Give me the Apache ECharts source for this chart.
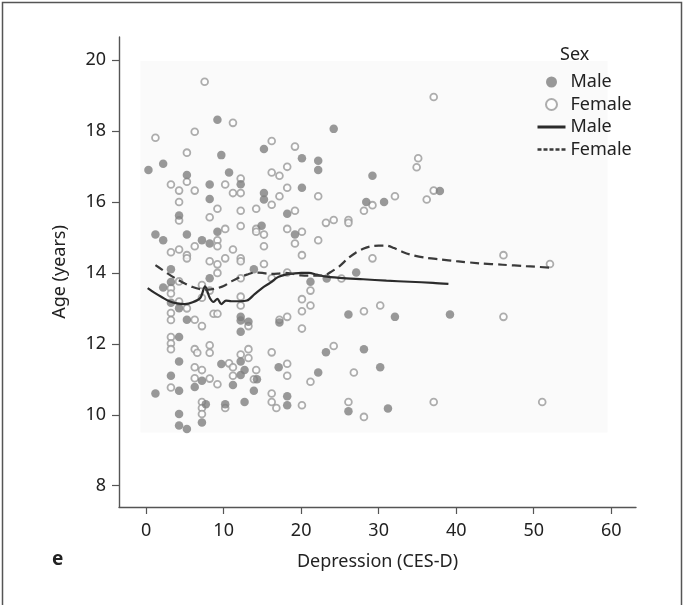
<!DOCTYPE html>
<html>
<head>
<meta charset="utf-8">
<script src="https://cdn.jsdelivr.net/npm/echarts@6/dist/echarts.min.js"></script>
<style>
  html, body { margin: 0; padding: 0; background: #fff; }
  #chart { width: 683px; height: 605px; }
</style>
</head>
<body>
<div id="chart"></div>
<script>
// Depression score (CES-D) vs age, by sex, with loess fits
const xTicks = [0, 10, 20, 30, 40, 50, 60];
const yTicks = [8, 10, 12, 14, 16, 18, 20];

const maleDepr = [0.3, 1.2, 1.2, 2.2, 2.2, 2.2, 3.2, 3.2, 3.2, 3.2, 4.25, 4.25, 4.25, 4.25, 4.25, 4.25, 4.25,
  5.26, 5.26, 5.26, 5.26, 6.27, 7.2, 7.2, 7.2, 7.7, 8.2, 8.2, 8.2, 8.2, 9.2, 9.2, 9.7, 9.7, 10.2, 10.7, 11.2,
  12.2, 12.2, 12.2, 12.2, 12.2, 12.2, 12.7, 13.2, 12.7, 13.9, 13.9, 14.3, 15.2, 15.2, 15.2, 14.9, 17.2, 17.1,
  18.2, 18.2, 18.2, 19.2, 20.1, 20.1, 22.2, 22.2, 22.2, 21.2, 23.2, 23.3, 24.2, 26.1, 26.1, 27.1, 28.1, 28.4,
  29.2, 30.2, 30.7, 31.2, 32.1, 37.9, 39.2];
const maleAge = [16.9, 10.6, 15.08, 17.08, 14.92, 13.59, 14.1, 13.74, 13.16, 11.1, 15.62, 13.0, 12.19, 11.5, 10.68, 10.02, 9.7,
  16.76, 15.08, 12.68, 9.6, 10.78, 14.92, 9.78, 10.96, 10.3, 16.49, 16.08, 13.85, 14.83, 18.32, 15.16, 17.32, 11.43, 10.3, 16.83, 10.84,
  16.5, 12.76, 12.66, 12.34, 11.5, 11.12, 10.36, 12.62, 11.26, 14.1, 10.68, 11.0, 17.49, 16.25, 16.07, 15.33, 12.6, 11.34,
  15.67, 10.52, 10.27, 15.08, 17.23, 16.4, 17.16, 16.9, 11.19, 13.75, 11.76, 13.84, 18.06, 10.1, 12.83, 14.01, 11.85, 16.0,
  16.74, 11.34, 16.0, 10.18, 12.76, 16.31, 12.83];

const femaleDepr = [1.2, 3.2, 3.2, 3.2, 3.2, 3.2, 3.2, 3.2, 3.2, 3.2, 3.2, 4.25, 4.25, 4.25, 4.25, 4.25, 4.25,
  5.26, 5.26, 5.26, 5.26, 5.26, 6.27, 6.27, 6.27, 6.27, 6.27, 6.27, 6.27, 6.6, 7.2, 7.2, 7.2, 7.2, 7.2, 7.2, 7.2,
  7.55, 8.2, 8.2, 8.2, 8.2, 8.2, 8.2, 8.7, 9.2, 9.2, 9.2, 9.2, 9.2, 9.2, 9.2, 10.2, 10.2, 10.2, 10.2, 10.7,
  11.2, 11.2, 11.2, 11.2, 11.2, 12.2, 12.2, 12.2, 12.2, 12.2, 12.2, 12.2, 12.2, 12.2, 12.2, 13.2, 13.2, 13.2,
  14.2, 14.2, 14.2, 14.2, 13.9, 15.2, 15.2, 15.2, 16.2, 16.2, 16.2, 16.2, 16.2, 16.2, 16.2, 16.8, 17.2, 17.2, 17.2,
  18.2, 18.2, 18.2, 18.2, 18.2, 18.2, 18.2, 19.2, 19.2, 19.2, 20.1, 20.1, 20.1, 20.1, 20.1, 20.1, 21.2, 21.2, 21.2,
  22.2, 22.2, 23.2, 24.2, 24.2, 25.2, 26.1, 26.1, 26.1, 26.8, 28.1, 28.1, 28.1, 29.2, 29.2, 30.2, 32.1, 34.9, 35.1,
  36.2, 37.1, 37.1, 37.1, 46.1, 46.1, 51.1, 52.1];
const femaleAge = [17.81, 16.49, 14.58, 13.57, 13.42, 12.87, 12.67, 12.19, 12.01, 11.85, 10.77, 16.32, 16.0, 15.48, 14.66, 13.76, 13.19,
  17.39, 16.57, 14.5, 14.41, 13.0, 17.98, 16.32, 14.75, 12.68, 11.85, 11.34, 11.03, 11.75, 12.5, 11.26, 10.36, 10.19, 10.02, 13.66, 13.3,
  19.39, 15.57, 14.33, 13.5, 11.96, 11.75, 11.02, 12.85, 12.85, 15.81, 14.92, 14.75, 14.24, 14.0, 10.86, 16.49, 15.24, 14.41, 10.19, 11.45,
  18.23, 16.25, 14.66, 11.34, 11.1, 16.66, 16.25, 15.75, 15.32, 14.41, 14.33, 13.85, 13.33, 13.08, 11.7, 11.85, 11.6, 12.5,
  15.81, 15.24, 15.16, 11.26, 11.0, 15.08, 14.75, 14.25, 17.72, 16.83, 15.92, 13.85, 11.76, 10.6, 10.36, 10.19, 16.74, 16.16, 12.68,
  16.99, 16.4, 15.24, 14.01, 12.76, 11.44, 11.1, 17.56, 15.75, 14.83, 15.16, 14.5, 13.26, 12.92, 12.43, 10.27, 13.5, 13.08, 10.93,
  16.16, 14.92, 15.41, 15.49, 11.94, 13.84, 15.49, 15.41, 10.36, 11.19, 15.75, 12.92, 9.94, 15.91, 14.41, 13.08, 16.16, 16.98, 17.23,
  16.07, 16.32, 18.96, 10.36, 14.5, 12.76, 10.36, 14.25];

// Loess fit curves
const maleFitX = [0.2, 1, 2, 3, 4, 5, 6, 7, 7.6, 8.2, 8.7, 9.2, 9.7, 10.3, 11, 12, 13, 14, 15, 16, 17, 18, 19, 20, 21, 22, 23, 25, 28, 31, 34, 37, 39];
const maleFitY = [13.57, 13.45, 13.32, 13.2, 13.14, 13.12, 13.17, 13.3, 13.62, 13.3, 13.18, 13.27, 13.12, 13.22, 13.2, 13.2, 13.22, 13.4, 13.58, 13.72, 13.88, 13.95, 13.98, 14.0, 14.0, 13.95, 13.9, 13.86, 13.82, 13.78, 13.75, 13.72, 13.69];
const femaleFitX = [1.2, 2, 3, 4, 5, 6, 7, 8, 9, 10, 11, 12, 13, 14, 15, 16, 17, 18, 19, 20, 21, 22, 23, 24, 25, 26, 27, 28, 29, 30, 31, 32, 33, 34, 36, 38, 40, 43, 46, 49, 52];
const femaleFitY = [14.22, 14.1, 13.95, 13.82, 13.7, 13.6, 13.54, 13.53, 13.56, 13.63, 13.76, 13.87, 13.95, 14.01, 14.0, 13.97, 13.98, 14.0, 13.97, 13.93, 13.92, 13.92, 13.93, 14.05, 14.2, 14.4, 14.56, 14.68, 14.75, 14.77, 14.77, 14.7, 14.6, 14.52, 14.43, 14.38, 14.33, 14.27, 14.23, 14.19, 14.15];

const zip = (xs, ys) => xs.map((x, i) => [x, ys[i]]);

const FONT = '"Noto Sans", "Open Sans", sans-serif';
const AXIS_COLOR = '#555';
const TEXT_COLOR = '#222';
const HIDDEN = { color: 'rgba(0,0,0,0)', borderWidth: 0, opacity: 0 };

const chart = echarts.init(document.getElementById('chart'), null, { renderer: 'canvas' });

chart.setOption({
  animation: false,
  backgroundColor: '#fff',
  textStyle: { fontFamily: FONT },
  grid: { left: 119, right: 47, top: 37, bottom: 98 },
  xAxis: {
    type: 'value',
    min: -3.5,
    max: 63.2,
    name: 'Depression (CES-D)',
    nameLocation: 'middle',
    nameGap: 46,
    nameTextStyle: { fontSize: 18, color: TEXT_COLOR, fontFamily: FONT },
    axisLine: { show: true, onZero: false, lineStyle: { color: AXIS_COLOR, width: 1.4 } },
    axisTick: { show: true, length: 7, customValues: xTicks, lineStyle: { color: AXIS_COLOR, width: 1.2 } },
    axisLabel: { customValues: xTicks, fontSize: 18, color: TEXT_COLOR, margin: 15, fontFamily: FONT },
    splitLine: { show: false }
  },
  yAxis: {
    type: 'value',
    min: 7.4,
    max: 20.65,
    name: 'Age (years)',
    nameLocation: 'middle',
    nameGap: 50,
    nameTextStyle: { fontSize: 18, color: TEXT_COLOR, fontFamily: FONT },
    axisLine: { show: true, onZero: false, lineStyle: { color: AXIS_COLOR, width: 1.4 } },
    axisTick: { show: true, length: 7, customValues: yTicks, lineStyle: { color: AXIS_COLOR, width: 1.2 } },
    axisLabel: { customValues: yTicks, fontSize: 18, color: TEXT_COLOR, margin: 13, fontFamily: FONT },
    splitLine: { show: false }
  },
  legend: {
    orient: 'vertical',
    left: 536,
    top: 73,
    padding: 0,
    itemWidth: 28,
    itemHeight: 11,
    itemGap: 4.5,
    selectedMode: false,
    formatter: name => name.split(' ')[0],
    textStyle: { fontSize: 18, color: TEXT_COLOR, fontFamily: FONT },
    data: [
      { name: 'Male points' },
      { name: 'Female points' },
      { name: 'Male fit', itemStyle: HIDDEN, lineStyle: { width: 3 } },
      { name: 'Female fit', itemStyle: HIDDEN, lineStyle: { type: [4, 2], width: 2.5 } }
    ]
  },
  graphic: [
    {
      type: 'rect', z: -10, silent: true,
      shape: { x: 140.5, y: 61, width: 467, height: 371.5 },
      style: { fill: '#fafafa' }
    },
    {
      type: 'rect', z: 100, silent: true,
      shape: { x: 2.5, y: 2.5, width: 679, height: 610 },
      style: { fill: 'none', stroke: '#555', lineWidth: 1.5 }
    },
    {
      type: 'text', left: 560, top: 46,
      style: { text: 'Sex', fontSize: 18, fill: TEXT_COLOR, fontFamily: FONT }
    },
    {
      type: 'text', left: 52, top: 550,
      style: { text: 'e', fontSize: 19, fontWeight: 'bold', fill: TEXT_COLOR, fontFamily: FONT }
    }
  ],
  series: [
    {
      name: 'Female points',
      type: 'scatter',
      symbol: 'circle',
      symbolSize: 6.8,
      itemStyle: { color: '#fff', borderColor: '#999', borderWidth: 1.8 },
      data: zip(femaleDepr, femaleAge),
      z: 3
    },
    {
      name: 'Male points',
      type: 'scatter',
      symbol: 'circle',
      symbolSize: 8.5,
      itemStyle: { color: '#7f7f7f', borderWidth: 0 },
      data: zip(maleDepr, maleAge),
      z: 4
    },
    {
      name: 'Male fit',
      type: 'line',
      symbol: 'none',
      smooth: 0.3,
      lineStyle: { color: '#2b2b2b', width: 2.2 },
      itemStyle: { color: '#2b2b2b' },
      data: zip(maleFitX, maleFitY),
      z: 5
    },
    {
      name: 'Female fit',
      type: 'line',
      symbol: 'none',
      smooth: 0.3,
      lineStyle: { color: '#3a3a3a', width: 2.2, type: [9, 5] },
      itemStyle: { color: '#3a3a3a' },
      data: zip(femaleFitX, femaleFitY),
      z: 5
    }
  ]
});
</script>
</body>
</html>
